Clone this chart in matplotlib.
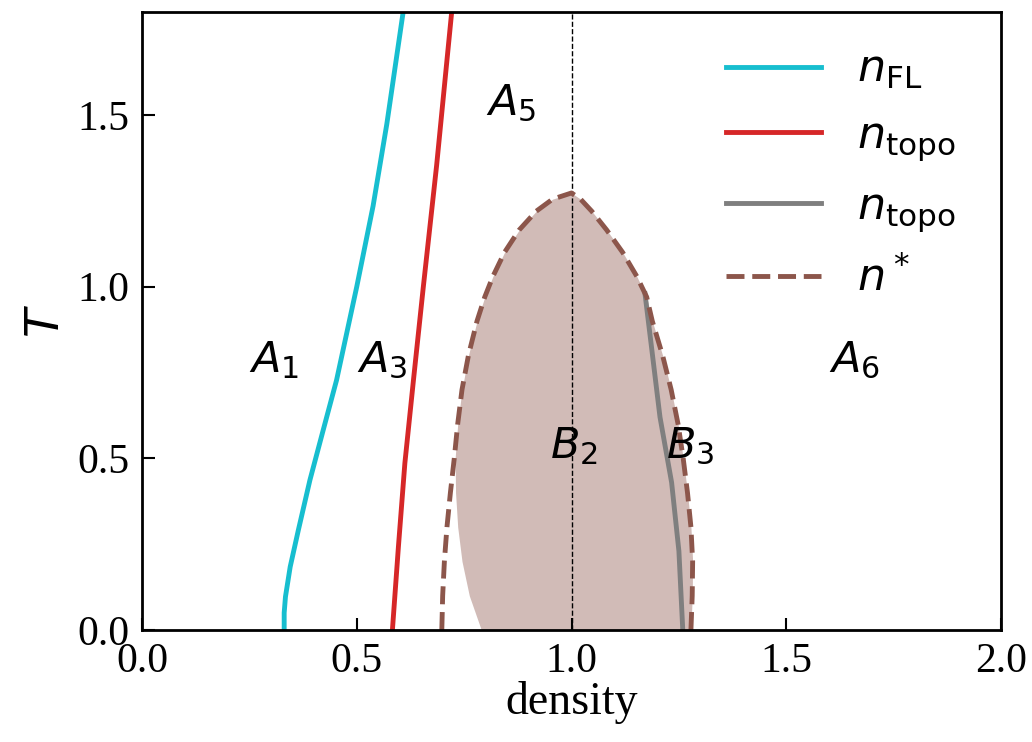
import matplotlib
matplotlib.use("Agg")
import matplotlib.pyplot as plt
import numpy as np

# n_FL (cyan)
fl_T = [0.0, 0.05, 0.097, 0.184, 0.291, 0.437, 0.583, 0.728, 1.0, 1.235, 1.474, 1.8]
fl_n = [0.331, 0.331, 0.334, 0.345, 0.364, 0.391, 0.422, 0.453, 0.50, 0.538, 0.570, 0.608]

# n_topo (red)
topo_T = [0.0, 0.243, 0.486, 0.728, 1.0, 1.354, 1.8]
topo_n = [0.583, 0.597, 0.612, 0.632, 0.655, 0.686, 0.721]

# n_topo (grey, right side)
topo2_T = [0.0, 0.23, 0.43, 0.62, 0.816, 0.98]
topo2_n = [1.259, 1.250, 1.233, 1.206, 1.187, 1.171]

# n* (dashed dome): left and right branches on the same T grid
star_T = [0.0, 0.1, 0.2, 0.3, 0.4, 0.5, 0.6, 0.7, 0.8, 0.9, 0.97, 1.03, 1.1, 1.165, 1.22, 1.255, 1.273]
star_left = [0.698, 0.700, 0.704, 0.710, 0.718, 0.727, 0.735, 0.745, 0.760, 0.780, 0.798, 0.817, 0.844, 0.878, 0.918, 0.956, 1.0]
star_right = [1.278, 1.281, 1.282, 1.278, 1.270, 1.260, 1.248, 1.232, 1.212, 1.188, 1.175, 1.152, 1.119, 1.082, 1.047, 1.021, 1.0]

# shaded region, left edge differs from n* at low T
fill_left = [0.79, 0.762, 0.745, 0.735, 0.730, 0.729, 0.735, 0.745, 0.760, 0.780, 0.798, 0.817, 0.844, 0.878, 0.918, 0.956, 1.0]

# region labels
labels = ["$A_1$", "$A_3$", "$A_5$", "$A_6$", "$B_2$", "$B_3$"]
label_x = [0.25, 0.5, 0.8, 1.6, 0.95, 1.22]
label_y = [0.75, 0.75, 1.5, 0.75, 0.5, 0.5]

serif = "Liberation Serif"

fig = plt.figure(figsize=(10.32, 7.42), dpi=100)
ax = fig.add_axes([0.1376, 0.1509, 0.8324, 0.8329])

ax.fill_betweenx(star_T, fill_left, star_right, color="tab:brown", alpha=0.4, lw=0)
ax.axvline(1.0, color="black", ls="--", lw=1)

ax.plot(fl_n, fl_T, color="tab:cyan", lw=3.5, label=r"$n_{\mathrm{FL}}$")
ax.plot(topo_n, topo_T, color="tab:red", lw=3.5, label=r"$n_{\mathrm{topo}}$")
ax.plot(topo2_n, topo2_T, color="tab:gray", lw=3.5, label=r"$n_{\mathrm{topo}}$")
star_x = star_left + star_right[::-1]
star_y = star_T + star_T[::-1]
ax.plot(star_x, star_y, color="tab:brown", lw=3.5, ls="--", label=r"$n^*$")

for s, x, y in zip(labels, label_x, label_y):
    ax.text(x, y, s, fontsize=31, ha="left", va="baseline")

ax.set_xlim(0, 2)
ax.set_ylim(0, 1.8)
ax.set_xticks([0, 0.5, 1.0, 1.5, 2.0])
ax.set_yticks([0, 0.5, 1.0, 1.5])
ax.tick_params(direction="in", length=9, width=1.5, pad=9, labelsize=30)
for lab in ax.get_xticklabels() + ax.get_yticklabels():
    lab.set_fontfamily(serif)
for sp in ax.spines.values():
    sp.set_linewidth(2)

ax.set_xlabel("density", fontsize=33, fontfamily=serif, labelpad=0)
ax.set_ylabel("$T$", fontsize=34, labelpad=6)

ax.legend(loc="upper right", bbox_to_anchor=(0.983, 0.992), frameon=False,
          fontsize=32, handlelength=2.15, labelspacing=0.5, borderaxespad=0.3)

fig.savefig("out.png", dpi=100)
